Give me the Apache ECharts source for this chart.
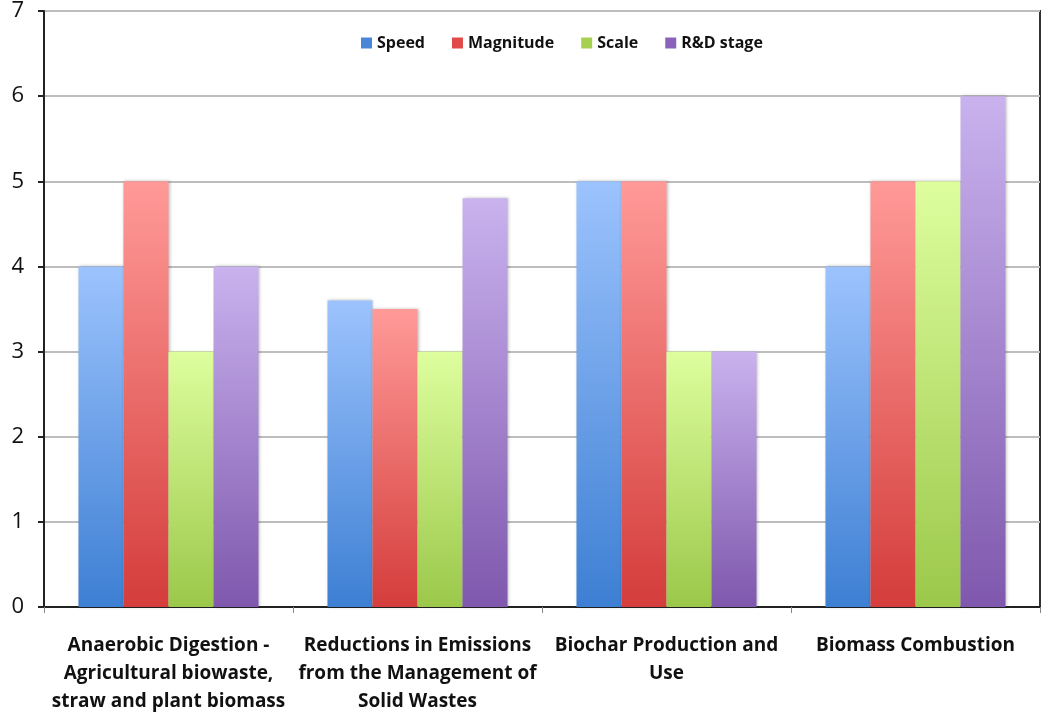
<!DOCTYPE html>
<html><head><meta charset="utf-8">
<script src="https://cdn.jsdelivr.net/npm/echarts@6/dist/echarts.min.js"></script>
<style>html,body{margin:0;padding:0;background:#fff}#c{width:1045px;height:719px}</style>
</head><body><div id="c"></div>
<script>
const categories = [
  "Anaerobic Digestion -\nAgricultural biowaste,\nstraw and plant biomass",
  "Reductions in Emissions\nfrom the Management of\nSolid Wastes",
  "Biochar Production and\nUse",
  "Biomass Combustion"
];
const seriesNames = ["Speed", "Magnitude", "Scale", "R&D stage"];
const speed = [4, 3.6, 5, 4];
const magnitude = [5, 3.5, 5, 5];
const scale = [3, 3, 3, 5];
const rdStage = [4, 4.8, 3, 6];
const yTicks = [0, 1, 2, 3, 4, 5, 6, 7];

const tops = ["#9cc3fd", "#ff9a98", "#defe9e", "#c9b2ee"];
const bottoms = ["#3d7fd3", "#d43d3b", "#9bc84a", "#7f58ad"];
const legendColors = ["#4a86d8", "#e04a48", "#a6d050", "#8a62bc"];
const values = [speed, magnitude, scale, rdStage];

const chart = echarts.init(document.getElementById('c'));
chart.setOption({
  animation: false,
  textStyle: {fontFamily: "Open Sans"},
  legend: {
    top: 30, left: 356,
    itemWidth: 11, itemHeight: 11, itemGap: 27,
    textStyle: {fontSize: 16, fontWeight: 'bold', color: '#111', fontFamily: "Open Sans"},
    data: seriesNames.map((n, i) => ({name: n, icon: 'rect', itemStyle: {color: legendColors[i]}}))
  },
  grid: {left: 44, right: 5, top: 11, bottom: 112, show: true, borderColor: '#333', borderWidth: 2, backgroundColor: 'transparent'},
  xAxis: {
    type: 'category', data: categories,
    axisLine: {lineStyle: {color: '#222', width: 2}},
    axisTick: {show: true, length: 6, lineStyle: {color: '#888', width: 1}},
    axisLabel: {fontSize: 19, fontWeight: 'bold', color: '#111', lineHeight: 28, margin: 25, interval: 0}
  },
  yAxis: {
    type: 'value', min: 0, max: 7, interval: 1,
    axisLine: {show: true, lineStyle: {color: '#222', width: 2}},
    axisTick: {show: true, length: 6, lineStyle: {color: '#222', width: 2}},
    axisLabel: {fontSize: 22, color: '#111', margin: 20, formatter: v => yTicks.includes(v) ? String(v) : ''},
    splitLine: {lineStyle: {color: '#bdbdbd', width: 2}}
  },
  series: seriesNames.map((n, i) => ({
    name: n, type: 'bar', data: values[i],
    barGap: '0%', barCategoryGap: '27.7%',
    itemStyle: {
      color: new echarts.graphic.LinearGradient(0, 0, 0, 1, [
        {offset: 0, color: tops[i]}, {offset: 1, color: bottoms[i]}
      ]),
      shadowColor: 'rgba(0,0,0,0.25)', shadowBlur: 3, shadowOffsetX: 1
    }
  }))
});
</script></body></html>
